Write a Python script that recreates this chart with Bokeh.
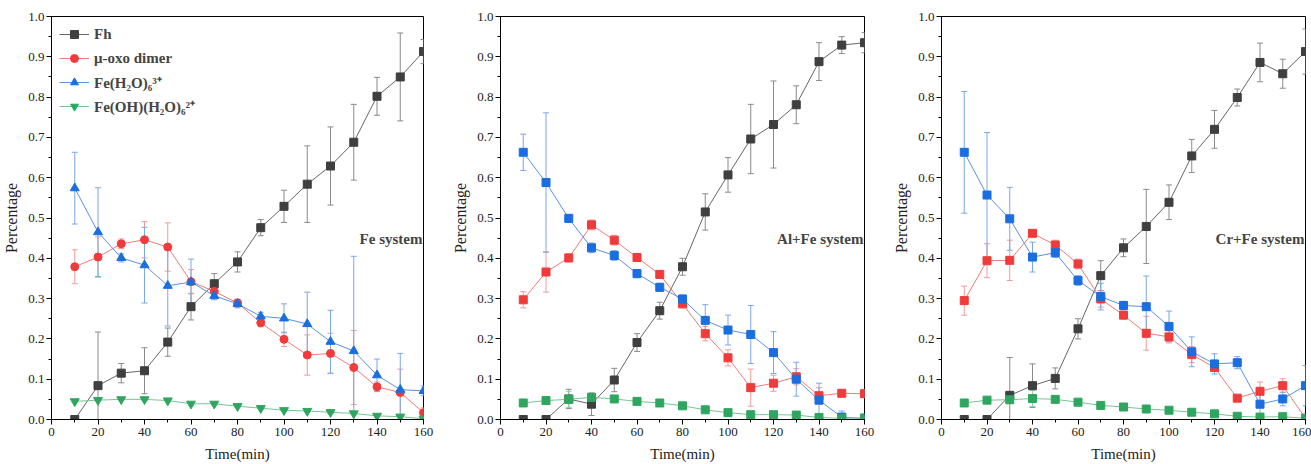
from bokeh.plotting import figure
from bokeh.models import (ColumnDataSource, Whisker, TeeHead, Legend, LegendItem, Label,
                          SingleIntervalTicker, PrintfTickFormatter, Range1d)
from bokeh.layouts import row
from bokeh.embed import file_html
from bokeh.resources import INLINE

time = [10, 20, 30, 40, 50, 60, 70, 80, 90, 100, 110, 120, 130, 140, 150, 160]
series_names = ["Fh", "μ-oxo dimer", "Fe(H₂O)₆³⁺", "Fe(OH)(H₂O)₆²⁺"]
panel_titles = ["Fe system", "Al+Fe system", "Cr+Fe system"]

# ---- Fe system ----
fe_fh = [0.0, 0.084, 0.115, 0.121, 0.192, 0.280, 0.337, 0.391, 0.476, 0.529, 0.584, 0.629, 0.688, 0.802, 0.850, 0.913]
fe_fh_err = [0.0, 0.133, 0.024, 0.057, 0.035, 0.033, 0.025, 0.025, 0.02, 0.04, 0.095, 0.097, 0.094, 0.047, 0.109, 0.03]
fe_oxo = [0.379, 0.403, 0.436, 0.446, 0.428, 0.342, 0.318, 0.289, 0.240, 0.199, 0.160, 0.164, 0.129, 0.081, 0.067, 0.017]
fe_oxo_err = [0.042, 0.05, 0.012, 0.045, 0.06, 0.03, 0.02, 0.01, 0.01, 0.018, 0.05, 0.05, 0.092, 0.012, 0.058, 0.012]
fe_h2o = [0.574, 0.465, 0.401, 0.383, 0.332, 0.341, 0.307, 0.287, 0.256, 0.251, 0.237, 0.193, 0.170, 0.110, 0.074, 0.071]
fe_h2o_err = [0.089, 0.11, 0.01, 0.094, 0.1, 0.057, 0.01, 0.01, 0.01, 0.036, 0.079, 0.078, 0.235, 0.04, 0.09, 0.012]
fe_oh = [0.045, 0.048, 0.050, 0.050, 0.047, 0.039, 0.039, 0.033, 0.028, 0.023, 0.021, 0.018, 0.015, 0.009, 0.007, 0.002]
fe_oh_err = [0.003, 0.003, 0.003, 0.003, 0.003, 0.003, 0.003, 0.003, 0.003, 0.003, 0.003, 0.003, 0.003, 0.003, 0.003, 0.003]

# ---- Al+Fe system ----
al_fh = [0.0, 0.0, 0.051, 0.038, 0.098, 0.191, 0.270, 0.379, 0.515, 0.607, 0.696, 0.732, 0.781, 0.888, 0.929, 0.935]
al_fh_err = [0.0, 0.0, 0.024, 0.028, 0.029, 0.022, 0.021, 0.021, 0.045, 0.043, 0.086, 0.108, 0.047, 0.047, 0.021, 0.025]
al_oxo = [0.297, 0.366, 0.401, 0.483, 0.445, 0.402, 0.360, 0.287, 0.213, 0.153, 0.079, 0.090, 0.106, 0.059, 0.065, 0.064]
al_oxo_err = [0.02, 0.05, 0.01, 0.012, 0.012, 0.01, 0.01, 0.01, 0.018, 0.02, 0.046, 0.02, 0.02, 0.02, 0.005, 0.01]
al_h2o = [0.663, 0.588, 0.499, 0.426, 0.407, 0.362, 0.328, 0.299, 0.246, 0.222, 0.211, 0.166, 0.100, 0.048, 0.006, 0.002]
al_h2o_err = [0.045, 0.173, 0.01, 0.012, 0.012, 0.01, 0.01, 0.01, 0.039, 0.037, 0.072, 0.052, 0.042, 0.042, 0.015, 0.003]
al_oh = [0.041, 0.047, 0.050, 0.055, 0.051, 0.045, 0.041, 0.034, 0.024, 0.017, 0.012, 0.012, 0.011, 0.005, 0.003, 0.004]
al_oh_err = [0.003, 0.003, 0.02, 0.01, 0.003, 0.003, 0.003, 0.003, 0.003, 0.003, 0.003, 0.003, 0.003, 0.003, 0.003, 0.003]

# ---- Cr+Fe system ----
cr_fh = [0.0, 0.0, 0.060, 0.084, 0.102, 0.225, 0.357, 0.426, 0.479, 0.539, 0.654, 0.720, 0.799, 0.886, 0.858, 0.913]
cr_fh_err = [0.0, 0.0, 0.094, 0.054, 0.026, 0.025, 0.037, 0.022, 0.092, 0.043, 0.041, 0.047, 0.021, 0.048, 0.036, 0.056]
cr_oxo = [0.295, 0.394, 0.395, 0.462, 0.433, 0.386, 0.299, 0.259, 0.214, 0.205, 0.161, 0.129, 0.053, 0.070, 0.084, 0.003]
cr_oxo_err = [0.036, 0.042, 0.05, 0.005, 0.012, 0.012, 0.02, 0.01, 0.042, 0.015, 0.02, 0.01, 0.005, 0.023, 0.017, 0.003]
cr_h2o = [0.663, 0.557, 0.498, 0.403, 0.414, 0.345, 0.305, 0.283, 0.280, 0.231, 0.168, 0.138, 0.141, 0.038, 0.051, 0.084]
cr_h2o_err = [0.151, 0.155, 0.078, 0.037, 0.012, 0.012, 0.033, 0.01, 0.076, 0.038, 0.037, 0.025, 0.015, 0.04, 0.017, 0.05]
cr_oh = [0.041, 0.048, 0.049, 0.052, 0.050, 0.043, 0.035, 0.031, 0.026, 0.023, 0.018, 0.014, 0.008, 0.006, 0.007, 0.003]
cr_oh_err = [0.003, 0.003, 0.003, 0.02, 0.003, 0.003, 0.003, 0.003, 0.003, 0.003, 0.003, 0.003, 0.003, 0.003, 0.003, 0.003]

FONT = "Liberation Serif"
# (marker color, line color, error-bar color)
COLORS = [("#3f3f3f", "#666666", "#8a8a8a"),
          ("#ef3b3b", "#f07a7a", "#f29a9a"),
          ("#1a6ee0", "#5b90e4", "#7aa8ea"),
          ("#2fa65f", "#78c494", "#8fd0a8")]


def make_panel(title, data, markers, width, border_left, border_right, legend=False):
    p = figure(width=width, height=464, output_backend="svg", toolbar_location=None,
               x_range=Range1d(0, 160), y_range=Range1d(0, 1.0),
               min_border_left=border_left, min_border_right=border_right,
               min_border_top=16, min_border_bottom=45)
    p.xgrid.visible = False
    p.ygrid.visible = False
    p.outline_line_color = "black"
    p.outline_line_width = 1
    p.background_fill_color = "white"
    p.border_fill_color = "white"

    items = []
    for i, (y, err) in enumerate(data):
        mc, lc, ec = COLORS[i]
        src = ColumnDataSource(dict(x=time, y=y,
                                    upper=[a + b for a, b in zip(y, err)],
                                    lower=[a - b for a, b in zip(y, err)]))
        w = Whisker(source=src, base="x", upper="upper", lower="lower",
                    line_color=ec, line_width=1,
                    upper_head=TeeHead(size=6, line_color=ec, line_width=1),
                    lower_head=TeeHead(size=6, line_color=ec, line_width=1))
        p.add_layout(w)
        ln = p.line("x", "y", source=src, line_color=lc, line_width=1)
        size = 8 if markers[i] in ("square", "circle") else 9
        sc = p.scatter("x", "y", source=src, marker=markers[i], size=size,
                       fill_color=mc, line_color=mc)
        items.append(LegendItem(label=series_names[i], renderers=[ln, sc]))

    if legend:
        lg = Legend(items=items, location="top_left",
                    label_text_font=FONT, label_text_font_size="15px",
                    label_text_font_style="bold", glyph_width=30, glyph_height=20,
                    label_height=20, spacing=4, padding=2, margin=8,
                    label_standoff=5,
                    border_line_color=None, background_fill_alpha=0)
        p.add_layout(lg, "center")

    p.add_layout(Label(x=160, y=0.447, text=title, text_align="right",
                       text_baseline="middle", text_font=FONT,
                       text_font_size="15px", text_font_style="bold", x_offset=-1))

    for ax in (p.xaxis[0], p.yaxis[0]):
        ax.axis_line_color = "black"
        ax.major_tick_line_color = "black"
        ax.minor_tick_line_color = "black"
        ax.major_tick_out = 5
        ax.major_tick_in = 0
        ax.minor_tick_out = 3
        ax.minor_tick_in = 0
        ax.major_label_text_font = FONT
        ax.major_label_text_font_size = "13px"
        ax.major_label_text_color = "#222222"
        ax.axis_label_text_font = FONT
        ax.axis_label_text_font_style = "normal"
        ax.axis_label_text_color = "#222222"

    p.xaxis.major_label_standoff = 3
    p.yaxis.major_label_standoff = 2
    p.xaxis.ticker = SingleIntervalTicker(interval=20, num_minor_ticks=2)
    p.yaxis.ticker = SingleIntervalTicker(interval=0.1, num_minor_ticks=2)
    p.yaxis.formatter = PrintfTickFormatter(format="%.1f")
    p.xaxis.axis_label = "Time(min)"
    p.xaxis.axis_label_text_font_size = "15px"
    p.xaxis.axis_label_standoff = 7
    p.yaxis.axis_label = "Percentage"
    p.yaxis.axis_label_text_font_size = "16px"
    p.yaxis.axis_label_standoff = 5
    return p


p1 = make_panel(panel_titles[0],
                [(fe_fh, fe_fh_err), (fe_oxo, fe_oxo_err), (fe_h2o, fe_h2o_err), (fe_oh, fe_oh_err)],
                ["square", "circle", "triangle", "inverted_triangle"], 449, 51, 26, legend=True)
p2 = make_panel(panel_titles[1],
                [(al_fh, al_fh_err), (al_oxo, al_oxo_err), (al_h2o, al_h2o_err), (al_oh, al_oh_err)],
                ["square", "square", "square", "square"], 441, 43, 26)
p3 = make_panel(panel_titles[2],
                [(cr_fh, cr_fh_err), (cr_oxo, cr_oxo_err), (cr_h2o, cr_h2o_err), (cr_oh, cr_oh_err)],
                ["square", "square", "square", "square"], 421, 43, 6)

layout = row(p1, p2, p3)
open("out.html", "w").write(file_html(layout, INLINE))
